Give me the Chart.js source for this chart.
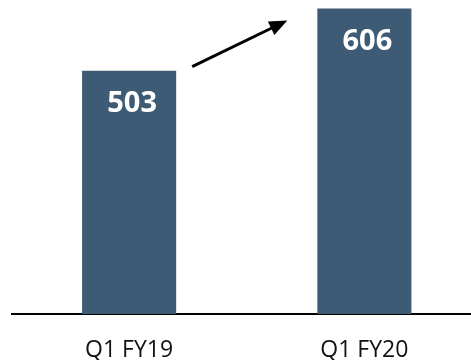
<!DOCTYPE html>
<html>
<head>
<meta charset="utf-8">
<title>Q1 FY19 vs Q1 FY20</title>
<script src="https://cdn.jsdelivr.net/npm/chart.js@4/dist/chart.umd.min.js"></script>
<style>
    html, body { margin: 0; padding: 0; background: #fff; overflow: hidden; }
    #wrap { width: 471px; height: 360px; overflow: hidden; }
</style>
</head>
<body>
<div id="wrap"><canvas id="barChart" width="482" height="360"></canvas></div>
<script>
const categories = ['Q1 FY19', 'Q1 FY20'];
const values = [503, 606];
const valueLabels = ['503', '606'];

const BAR_COLOR = '#3e5b75';
const FONT = '"Open Sans", "Liberation Sans", sans-serif';

// --- PLUGINS ---
// white value label inside the top of each bar
const valueLabelPlugin = {
    id: 'valueLabels',
    afterDatasetsDraw(chart) {
        const ctx = chart.ctx;
        const bars = chart.getDatasetMeta(0).data;
        ctx.save();
        ctx.fillStyle = '#ffffff';
        ctx.font = `bold 29px ${FONT}`;
        ctx.textAlign = 'center';
        ctx.textBaseline = 'middle';
        bars.forEach((bar, i) => {
            ctx.fillText(valueLabels[i], bar.x + 3, bar.y + 33);
        });
        ctx.restore();
    }
};

// growth arrow from the first bar to the second
const arrowPlugin = {
    id: 'growthArrow',
    afterDraw(chart) {
        const bars = chart.getDatasetMeta(0).data;
        if (bars.length < 2) return;
        const a = bars[0], b = bars[1];
        const x1 = a.x + a.width / 2 + 16, y1 = a.y - 4;
        const x2 = b.x - b.width / 2 - 30, y2 = b.y + 12;
        const ang = Math.atan2(y2 - y1, x2 - x1);
        const head = 18, half = 7.5;

        const ctx = chart.ctx;
        ctx.save();
        ctx.strokeStyle = '#000';
        ctx.fillStyle = '#000';
        ctx.lineWidth = 3;
        ctx.beginPath();
        ctx.moveTo(x1, y1);
        ctx.lineTo(x2 - Math.cos(ang) * head * 0.8, y2 - Math.sin(ang) * head * 0.8);
        ctx.stroke();

        const bx = x2 - Math.cos(ang) * head, by = y2 - Math.sin(ang) * head;
        ctx.beginPath();
        ctx.moveTo(x2, y2);
        ctx.lineTo(bx - Math.sin(ang) * half, by + Math.cos(ang) * half);
        ctx.lineTo(bx + Math.sin(ang) * half, by - Math.cos(ang) * half);
        ctx.closePath();
        ctx.fill();
        ctx.restore();
    }
};

// --- CHART ---
function renderChart() {
    const ctx = document.getElementById('barChart').getContext('2d');
    new Chart(ctx, {
        type: 'bar',
        data: {
            labels: categories,
            datasets: [{
                data: values,
                backgroundColor: BAR_COLOR,
                borderWidth: 0,
                barPercentage: 0.4,
                categoryPercentage: 1.0
            }]
        },
        options: {
            responsive: false,
            animation: false,
            devicePixelRatio: 1,
            layout: { padding: { left: 11.5, right: 0, top: 0, bottom: 0 } },
            plugins: {
                legend: { display: false },
                tooltip: { enabled: false }
            },
            scales: {
                y: {
                    display: false,
                    min: 100,
                    max: 620
                },
                x: {
                    grid: { display: false, drawTicks: false },
                    border: { display: true, color: '#000', width: 2 },
                    ticks: {
                        color: '#111',
                        font: { family: FONT, size: 23 },
                        padding: 23,
                        maxRotation: 0,
                        autoSkip: false
                    },
                    afterFit: scale => { scale.height = 46; }
                }
            }
        },
        plugins: [valueLabelPlugin, arrowPlugin]
    });
}

document.addEventListener('DOMContentLoaded', renderChart);
</script>
</body>
</html>
